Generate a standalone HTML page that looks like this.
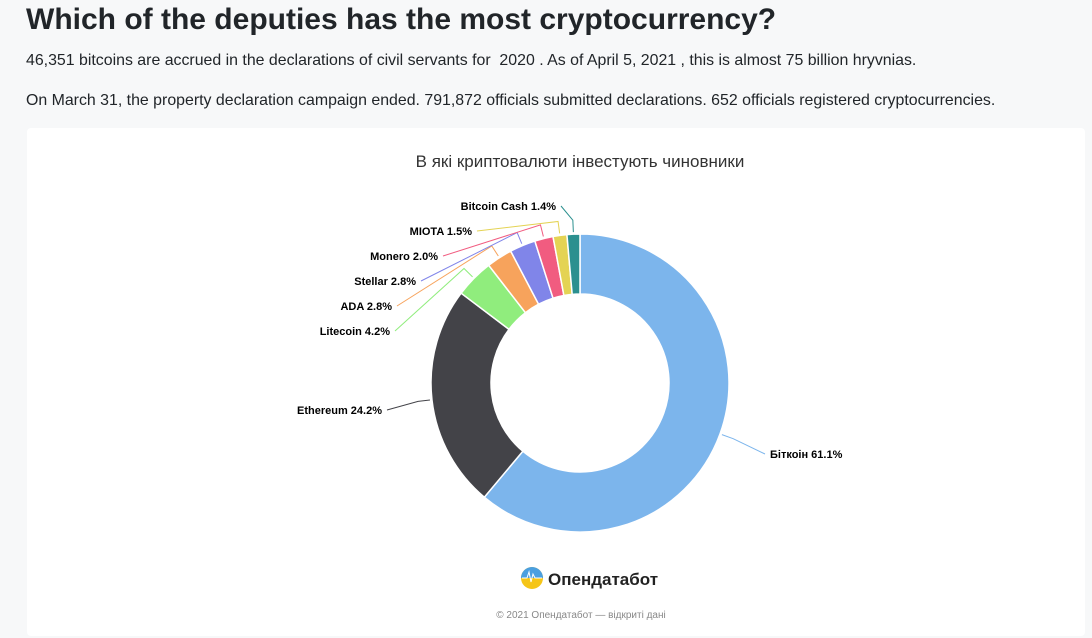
<!DOCTYPE html>
<html><head><meta charset="utf-8"><style>
body{margin:0;width:1092px;height:638px;overflow:hidden;background:#f7f8f9;font-family:"Liberation Sans","DejaVu Sans",sans-serif;color:#212529}
h1{position:absolute;left:26px;top:3px;margin:0;font-size:30px;font-weight:bold;color:#212529}
p{position:absolute;left:26px;margin:0;font-size:15.9px}
#card{position:absolute;left:27px;top:128px;width:1058px;height:508px;background:#fff;border-radius:4px}
svg text{font-family:"Liberation Sans","DejaVu Sans",sans-serif}
</style></head><body>
<h1>Which of the deputies has the most cryptocurrency?</h1>
<p style="top:52px">46,351 bitcoins are accrued in the declarations of civil servants for &nbsp;2020 . As of April 5, 2021 , this is almost 75 billion hryvnias.</p>
<p style="top:92px">On March 31, the property declaration campaign ended. 791,872 officials submitted declarations. 652 officials registered cryptocurrencies.</p>
<div id="card"></div>
<svg id="chart" width="1092" height="638" style="position:absolute;left:0;top:0">
<text x="580" y="167" text-anchor="middle" font-size="17" fill="#333">В які криптовалюти інвестують чиновники</text>
<g id="slices"></g><g id="labels"></g>
<g>
<circle cx="532" cy="578" r="11" fill="#f5c518"/>
<path d="M521,578 A11,11 0 0 1 543,578 Z" fill="#4a9fe0"/>
<polyline points="522,578 527,578 529,572 531,582 533,574 535,578 542,578" fill="none" stroke="#fff" stroke-width="1"/>
<text x="548" y="585" font-size="17" font-weight="bold" fill="#222">Опендатабот</text>
</g>
<text x="581" y="618" text-anchor="middle" font-size="10" fill="#888">© 2021 Опендатабот — відкриті дані</text>
</svg>
<script>
const categories=["Біткоін","Ethereum","Litecoin","ADA","Stellar","Monero","MIOTA","Bitcoin Cash"];
const values=[61.1,24.2,4.2,2.8,2.8,2.0,1.5,1.4];
const colors=["#7cb5ec","#434348","#90ed7d","#f7a35c","#8085e9","#f15c80","#e4d354","#2b908f"];
const labelPos=[[770,458,"start"],[382,414,"end"],[390,335,"end"],[392,310,"end"],[416,285,"end"],[438,260,"end"],[472,235,"end"],[556,210,"end"]];
const NS="http://www.w3.org/2000/svg";
const cx=580,cy=383,R=149,r=89;
const total=values.reduce((a,b)=>a+b,0);
const sg=document.getElementById('slices'),lg=document.getElementById('labels');
let a0=-Math.PI/2;
const pt=(a,rad)=>[cx+rad*Math.cos(a),cy+rad*Math.sin(a)];
values.forEach((v,i)=>{
  const a1=a0+v/total*2*Math.PI;
  const large=(a1-a0)>Math.PI?1:0;
  const [x0,y0]=pt(a0,R),[x1,y1]=pt(a1,R),[x2,y2]=pt(a1,r),[x3,y3]=pt(a0,r);
  const p=document.createElementNS(NS,'path');
  p.setAttribute('d',`M${x0},${y0}A${R},${R} 0 ${large} 1 ${x1},${y1}L${x2},${y2}A${r},${r} 0 ${large} 0 ${x3},${y3}Z`);
  p.setAttribute('fill',colors[i]);p.setAttribute('stroke','#fff');p.setAttribute('stroke-width','1.5');
  
  
  sg.appendChild(p);
  const am=(a0+a1)/2;
  const [sx,sy]=pt(am,R+2),[mx,my]=pt(am,R+14);
  const [lx,ly,anc]=labelPos[i];
  const ex=anc==="start"?lx-5:lx+5;
  const l=document.createElementNS(NS,'path');
  l.setAttribute('d',`M${sx},${sy}L${mx},${my}L${ex},${ly-4}`);
  l.setAttribute('fill','none');l.setAttribute('stroke',colors[i]);l.setAttribute('stroke-width','1');
  
  
  lg.appendChild(l);
  const t=document.createElementNS(NS,'text');
  t.setAttribute('x',lx);t.setAttribute('y',ly);t.setAttribute('text-anchor',anc);
  t.setAttribute('font-size','11');t.setAttribute('font-weight','bold');t.setAttribute('fill','#000');
  t.textContent=categories[i]+" "+v.toFixed(1)+"%";
  
  
  lg.appendChild(t);
  a0=a1;
});
</script>
</body></html>
